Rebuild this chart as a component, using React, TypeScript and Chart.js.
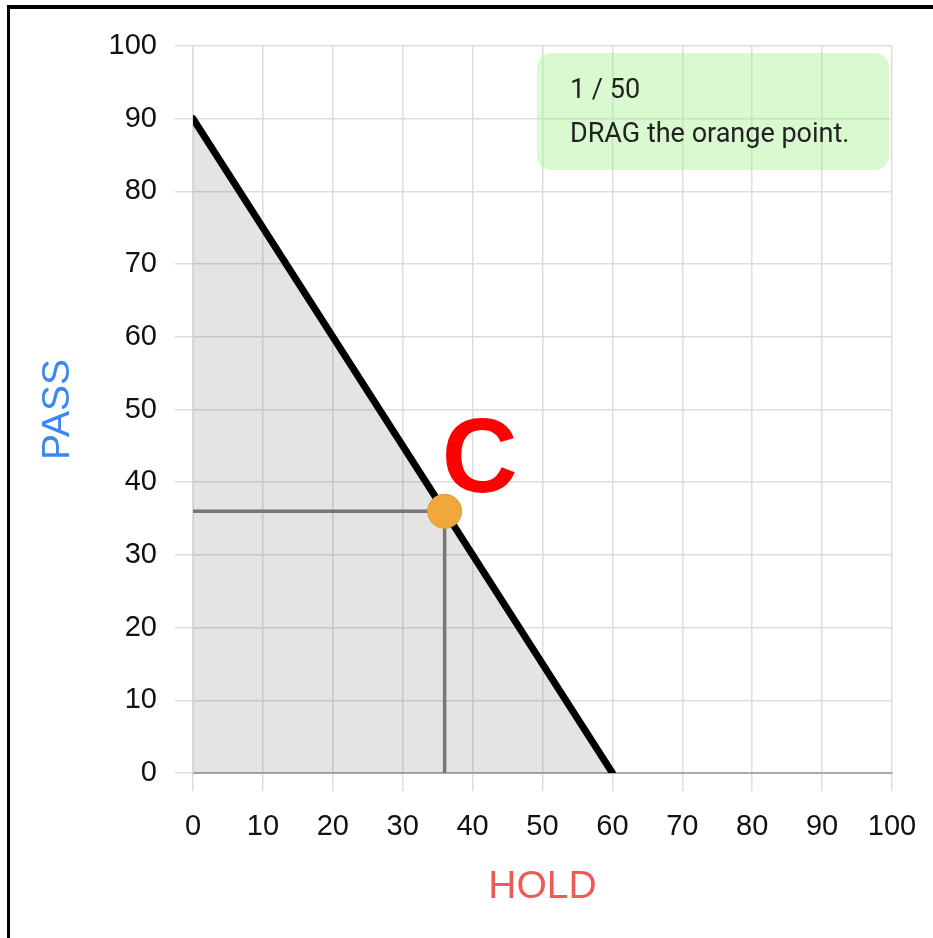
import { useEffect, useRef } from 'react';
import { Chart, registerables } from 'chart.js';

Chart.register(...registerables);

// ---- data ----
const constraintHold = [0, 60];
const constraintPass = [90, 0];
const pointHold = [36];
const pointPass = [36];
const pointLabels = ['C'];
const axisMin = 0;
const axisMax = 100;
const axisStep = 10;
const xTitle = 'HOLD';
const yTitle = 'PASS';
const infoLines = ['1 / 50', 'DRAG the orange point.'];

const TICK_FONT = { family: '"Liberation Sans", Arial, Helvetica, sans-serif', size: 29 };
const TITLE_FONT = { family: '"Liberation Sans", Arial, Helvetica, sans-serif', size: 39 };

const overlayPlugin = {
  id: 'overlay',
  afterDraw(chart: any) {
    const { ctx, chartArea, scales } = chart;
    const xs = scales.x;
    const ys = scales.y;
    ctx.save();
    ctx.fillStyle = '#ff0000';
    ctx.font = 'bold 105px "Liberation Sans", Arial, sans-serif';
    ctx.textAlign = 'left';
    ctx.textBaseline = 'alphabetic';
    pointLabels.forEach((lab, i) => {
      const px = xs.getPixelForValue(pointHold[i]);
      const py = ys.getPixelForValue(pointPass[i]);
      ctx.fillText(lab, px - 3, py - 19);
    });
    ctx.restore();

    // info box
    const w = 352;
    const h = 117;
    const bx = chartArea.right - 3 - w;
    const by = chartArea.top + 7;
    const r = 16;
    ctx.save();
    ctx.fillStyle = 'rgba(160,240,140,0.4)';
    ctx.beginPath();
    ctx.moveTo(bx + r, by);
    ctx.lineTo(bx + w - r, by);
    ctx.quadraticCurveTo(bx + w, by, bx + w, by + r);
    ctx.lineTo(bx + w, by + h - r);
    ctx.quadraticCurveTo(bx + w, by + h, bx + w - r, by + h);
    ctx.lineTo(bx + r, by + h);
    ctx.quadraticCurveTo(bx, by + h, bx, by + h - r);
    ctx.lineTo(bx, by + r);
    ctx.quadraticCurveTo(bx, by, bx + r, by);
    ctx.closePath();
    ctx.fill();
    ctx.fillStyle = '#222';
    ctx.font = '27px Roboto, "Noto Sans", sans-serif';
    ctx.textAlign = 'left';
    ctx.textBaseline = 'middle';
    infoLines.forEach((t, i) => {
      ctx.fillText(t, bx + 33, by + 38 + i * 44);
    });
    ctx.restore();
  },
};

export default function App() {
  const ref = useRef<HTMLCanvasElement | null>(null);

  useEffect(() => {
    if (!ref.current) return;
    const constraint = constraintHold.map((x, i) => ({ x, y: constraintPass[i] }));
    const points = pointHold.map((x, i) => ({ x, y: pointPass[i] }));
    const hGuide = points.flatMap((p) => [{ x: axisMin, y: p.y }, { x: p.x, y: p.y }]);
    const vGuide = points.flatMap((p) => [{ x: p.x, y: p.y }, { x: p.x, y: axisMin }]);

    const chart = new Chart(ref.current, {
      type: 'scatter',
      data: {
        datasets: [
          {
            data: hGuide,
            showLine: true,
            borderColor: '#858585',
            borderWidth: 3.5,
            pointRadius: 0,
            order: 3,
          },
          {
            data: vGuide,
            showLine: true,
            borderColor: '#858585',
            borderWidth: 3.5,
            pointRadius: 0,
            order: 3,
          },
          {
            data: constraint,
            showLine: true,
            borderColor: '#000000',
            borderWidth: 7,
            borderCapStyle: 'round',
            fill: 'origin',
            backgroundColor: 'rgba(0,0,0,0.105)',
            pointRadius: 0,
            order: 2,
          },
          {
            data: points,
            backgroundColor: '#f0a83c',
            borderColor: '#e39a2e',
            borderWidth: 1,
            pointRadius: 17,
            order: 1,
          },
        ],
      },
      options: {
        animation: false,
        responsive: false,
        devicePixelRatio: 1,
        layout: { padding: { top: 46, right: 41, bottom: 0, left: 0 } },
        plugins: {
          legend: { display: false },
          tooltip: { enabled: false },
        },
        scales: {
          x: {
            type: 'linear',
            min: axisMin,
            max: axisMax,
            ticks: { stepSize: axisStep, font: TICK_FONT, color: '#111', padding: 19, maxRotation: 0 },
            grid: { color: '#dddddd', lineWidth: 1.5, tickLength: 18 },
            border: { color: '#aaaaaa', width: 2 },
            title: { display: true, text: xTitle, color: '#ec5b55', font: TITLE_FONT, padding: { top: 0, bottom: 27 } },
            afterFit: (s: any) => {
              s.height = 165;
              s.paddingRight = 0;
              s.paddingLeft = 0;
            },
          },
          y: {
            type: 'linear',
            min: axisMin,
            max: axisMax,
            ticks: { stepSize: axisStep, font: TICK_FONT, color: '#111', padding: 18 },
            grid: { color: '#dddddd', lineWidth: 1.5, tickLength: 18 },
            border: { color: '#dddddd', width: 1.5 },
            title: { display: true, text: yTitle, color: '#3d87f5', font: TITLE_FONT, padding: { top: 35, bottom: 0 } },
            afterFit: (s: any) => {
              s.width = 193;
              s.paddingTop = 0;
              s.paddingBottom = 0;
            },
          },
        },
      },
      plugins: [overlayPlugin],
    });
    return () => chart.destroy();
  }, []);

  return (
    <div>
      <div
        style={{
          position: 'absolute',
          left: 0,
          top: 0,
          width: 933,
          height: 938,
          background: '#fff',
        }}
      >
        <canvas ref={ref} width={933} height={938} style={{ width: 933, height: 938, display: 'block' }} />
      </div>
      <div
        style={{
          position: 'fixed',
          left: 7,
          top: 5,
          width: 2000,
          height: 2000,
          borderTop: '4px solid #000',
          borderLeft: '3px solid #000',
          pointerEvents: 'none',
        }}
      />
    </div>
  );
}
